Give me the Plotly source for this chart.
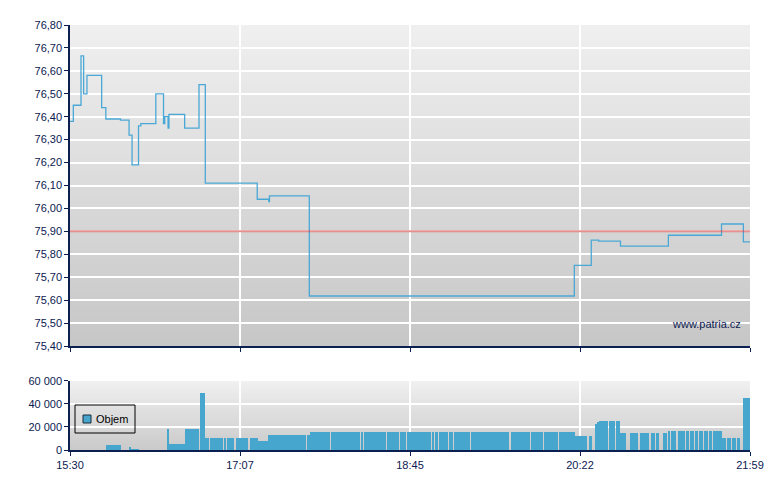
import plotly.graph_objects as go

# ---- data (minutes after 15:30) ----
price_min = [0, 1.9, 6.3, 7.8, 9.7, 18.1, 20.5, 28.9, 33.8, 35.5, 39.2, 40.5, 49.1, 53.5, 54.2,
             56.1, 56.6, 65.6, 73.8, 77.4, 107.1, 113.7, 114.1, 136.9, 288.5, 298.2, 302.4,
             314.9, 342.3, 372.7, 385.2, 389]
price_val = [76.38, 76.45, 76.665, 76.50, 76.58, 76.44, 76.39, 76.385, 76.32, 76.19, 76.36, 76.37,
             76.50, 76.37, 76.40, 76.35, 76.41, 76.35, 76.54, 76.11, 76.04, 76.03, 76.055, 75.618,
             75.752, 75.862, 75.857, 75.836, 75.883, 75.932, 75.854, 75.854]
prev_close = 75.90

vol_start = [20.5, 34.2, 34.8, 55.9, 56.3, 65.6, 74.2, 77.4, 79.9, 87.9, 90.0, 94.7, 102.7, 107.8,
             113.5, 135.8, 137.5, 149.5, 166.6, 168.3, 181.4, 188.8, 192.8, 207.1, 208.8, 211.1,
             215.6, 216.8, 219.6, 229.3, 252.2, 263.6, 271.0, 279.5, 288.7, 296.7, 300.1, 301.8,
             302.9, 305.8, 306.9, 308.1, 312.1, 314.9, 316.6, 320.1, 324.0, 325.8, 332.6, 335.5,
             339.5, 342.3, 344.0, 348.0, 352.6, 354.8, 357.7, 360.0, 362.8, 365.7, 368.0, 373.1,
             376.0, 378.8, 381.7, 385.1, 386.2]
vol_end = [28.9, 34.8, 39.4, 56.3, 65.6, 73.6, 77.4, 79.3, 87.3, 89.4, 93.6, 102.1, 107.8, 113.5,
           135.2, 137.5, 148.9, 166.0, 167.2, 180.8, 188.3, 192.3, 206.5, 208.2, 210.5, 215.1,
           216.2, 219.1, 228.8, 251.0, 263.0, 270.4, 279.0, 288.7, 295.5, 298.4, 301.8, 302.6,
           305.2, 306.4, 307.5, 311.5, 314.9, 316.1, 317.8, 323.5, 325.2, 331.5, 334.9, 337.2,
           341.8, 343.5, 346.9, 352.0, 354.3, 357.1, 359.4, 362.3, 365.1, 367.4, 373.1, 375.4,
           378.2, 381.1, 383.4, 385.7, 389.0]
vol_val = [4500, 2600, 1000, 18000, 5500, 18000, 50000, 10500, 10500, 10500, 10500, 10500, 10500, 7700,
           13000, 13000, 15500, 15500, 15500, 15500, 15500, 15500, 15500, 15500, 15500, 15500,
           15500, 15500, 15500, 15500, 15500, 15500, 15500, 15500, 12000, 12000, 23000, 24000,
           25000, 25000, 25000, 25000, 25000, 14500, 14500, 14500, 14500, 14500, 14500, 14500,
           14500, 16300, 16300, 16300, 16300, 16300, 16300, 16300, 16300, 16300, 16300, 10500,
           10500, 10500, 10500, 45500, 45500]

tick_pos = [0, 97.25, 194.5, 291.75, 389]
tick_text = ["15:30", "17:07", "18:45", "20:22", "21:59"]
vol_ticks = [0, 20000, 40000, 60000]
legend_label = "Objem"

NAVY = "#0b2050"
LINE = "#4aa8d6"
BAR = "#46a6ce"
FONT = "Liberation Sans, Arial"

fig = go.Figure()
fig.add_trace(go.Scatter(x=price_min, y=price_val, mode="lines", line=dict(color=LINE, width=1.3, shape="hv"),
                         showlegend=False, xaxis="x", yaxis="y", hoverinfo="skip"))
fig.add_trace(go.Bar(x=vol_start, y=vol_val, width=[e - s for s, e in zip(vol_start, vol_end)], offset=0,
                     marker=dict(color=BAR, line=dict(width=0)), name=legend_label, xaxis="x2", yaxis="y2",
                     showlegend=False))

# gradient backgrounds (overlapping stripes to avoid seams)
shapes = []
N = 40
for ref, c0, c1 in [("y", (239, 239, 239), (199, 199, 199)), ("y2", (240, 240, 240), (202, 202, 202))]:
    for i in range(N):
        f = i / (N - 1)
        c = tuple(int(round(c0[k] + (c1[k] - c0[k]) * f)) for k in range(3))
        shapes.append(dict(type="rect", xref="x domain", yref=f"{ref} domain", x0=0, x1=1,
                           y0=max(0, 1 - (i + 1) / N - 0.02), y1=1 - i / N, fillcolor=f"rgb{c}",
                           line=dict(width=0), layer="below"))
shapes.append(dict(type="line", xref="x domain", yref="y", x0=0, x1=1, y0=prev_close, y1=prev_close,
                   line=dict(color="rgba(215,70,70,0.6)", width=2)))

# custom legend box (paper coords)
W, H, L, T = 680, 425, 62, 17
def px_x(x):
    return (x - 70) / W
def px_y(y):
    return (450 - y) / H
shapes.append(dict(type="rect", xref="paper", yref="paper", x0=px_x(75), x1=px_x(135),
                   y0=px_y(433), y1=px_y(405), line=dict(color="black", width=1), fillcolor="rgba(0,0,0,0)"))
shapes.append(dict(type="rect", xref="paper", yref="paper", x0=px_x(83), x1=px_x(91),
                   y0=px_y(423), y1=px_y(415), line=dict(color="#1a2a3a", width=1), fillcolor=BAR))

axis_common = dict(showline=True, linecolor=NAVY, linewidth=1.5, ticks="outside", ticklen=4,
                   tickcolor=NAVY, tickwidth=1, gridcolor="white", gridwidth=1.5,
                   tickfont=dict(family=FONT, size=11, color=NAVY), zeroline=False)

fig.update_layout(
    width=780, height=490,
    margin=dict(l=L, r=780 - L - W, t=T, b=490 - T - H),
    paper_bgcolor="white", plot_bgcolor="rgba(0,0,0,0)",
    separators=", ",
    shapes=shapes,
    xaxis=dict(**axis_common, range=[0, 389], tickvals=tick_pos, ticktext=tick_text, showticklabels=False,
               anchor="y", domain=[0, 1]),
    yaxis=dict(**axis_common, range=[75.40, 76.80], dtick=0.1, tick0=75.4, tickformat=".2f",
               domain=[0.2447, 1.0], anchor="x"),
    xaxis2=dict(**axis_common, range=[0, 389], tickvals=tick_pos, ticktext=tick_text, anchor="y2",
                matches="x", domain=[0, 1]),
    yaxis2=dict(**axis_common, range=[0, 60000], tickvals=vol_ticks, tickformat=",d",
                domain=[0, 0.1624], anchor="x2"),
    showlegend=False,
    bargap=0,
    annotations=[
        dict(text="www.patria.cz", xref="paper", yref="paper", x=px_x(743), y=px_y(324),
             xanchor="right", yanchor="middle", showarrow=False,
             font=dict(family=FONT, size=11, color=NAVY)),
        dict(text=legend_label, xref="paper", yref="paper", x=px_x(94), y=px_y(419),
             xanchor="left", yanchor="middle", showarrow=False,
             font=dict(family=FONT, size=11, color="black")),
    ],
)

fig.write_html("out.html")
